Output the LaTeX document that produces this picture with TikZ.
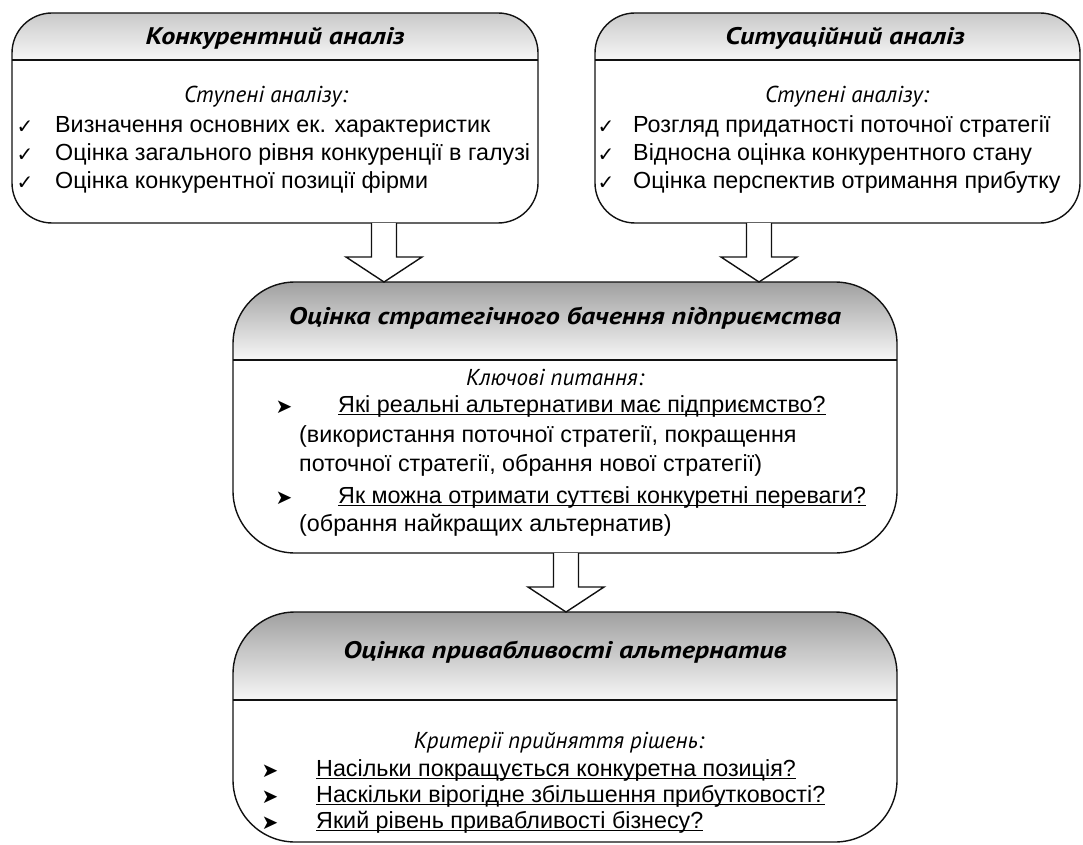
\documentclass[tikz,border=0pt]{standalone}
\usepackage{graphicx}
\usepackage{fontspec}
\setmainfont{Liberation Sans}
\newfontfamily\ttlfont{PT Sans}
\newfontfamily\symfont{DejaVu Sans}
\usetikzlibrary{calc}
\definecolor{hdrlight}{HTML}{C9C9C9}
\definecolor{hdrdark}{HTML}{A0A0A0}
\definecolor{hdrbot}{HTML}{F7F7F7}
\definecolor{lineclr}{HTML}{111111}

% #1 name, #2 x1, #3 y1, #4 x2, #5 y2, #6 radius, #7 header line y, #8 header top colour
\newcommand\drawpanel[8]{%
  \begin{scope}
    \clip[rounded corners=#6pt] (#2,#3) rectangle (#4,#5);
    \shade[top color=#8, bottom color=hdrbot] (#2,#3) rectangle (#4,#7);
  \end{scope}
  \draw[hline] (#2,#7) -- (#4,#7);
  \node[panel, rounded corners=#6pt, minimum width={#4-#2}, minimum height={#5-#3}]
    (#1) at ({(#2+#4)/2},{(#3+#5)/2}) {};
}
% block arrow from #1 (start) to #2 (tip)
\newcommand\blockarrow[2]{%
  \filldraw[blockarr] let \p1=(#1), \p2=(#2) in
    (\x1-12.5pt,\y1) -- (\x1-12.5pt,\y2+25pt) -- (\x1-38pt,\y2+25pt) --
    (\x1,\y2) -- (\x1+38pt,\y2+25pt) -- (\x1+12.5pt,\y2+25pt) -- (\x1+12.5pt,\y1);
}
% underline close to the baseline
\newcommand\undl[1]{\setbox0=\hbox{#1}\rlap{\rule[-2.8pt]{\wd0}{1.1pt}}\box0}
\newcommand\wideT[1]{\scalebox{1.17}[1]{#1}}

\begin{document}
\begin{tikzpicture}[x=1pt,y=-1pt,
  panel/.style={draw=lineclr, line width=1.4pt, inner sep=0pt, outer sep=0pt, rectangle},
  hline/.style={draw=lineclr, line width=1.8pt},
  ttl/.style={font=\ttlfont\bfseries\itshape\fontsize{24}{28}\selectfont, inner sep=0pt},
  sub/.style={font=\ttlfont\itshape\fontsize{23}{27}\selectfont, inner sep=0pt},
  txt/.style={font=\fontsize{23.3}{28}\selectfont, inner sep=0pt, anchor=west, text height=16pt, text depth=5pt},
  chk/.style={font=\symfont\fontsize{20}{22}\selectfont, inner sep=0pt},
  bul/.style={font=\symfont\fontsize{20}{22}\selectfont, inner sep=0pt},
  blockarr/.style={fill=white, draw=lineclr, line width=1.4pt, line join=miter},
]
\useasboundingbox (0,0) rectangle (1083,845);
\fill[white] (0,0) rectangle (1083,845);

% panels
\drawpanel{kon}{12}{13}{538}{223}{40}{60}{hdrlight}
\drawpanel{sit}{595}{13}{1080}{223}{40}{60}{hdrlight}
\drawpanel{ocs}{233}{282}{897}{553}{62}{360}{hdrdark}
\drawpanel{opr}{233}{612}{897}{842}{62}{700}{hdrdark}

% arrows
\coordinate (ax1) at (384,0);
\coordinate (ax2) at (759,0);
\coordinate (ax3) at (566,0);
\blockarrow{ax1 |- kon.south}{ax1 |- ocs.north}
\blockarrow{ax2 |- sit.south}{ax2 |- ocs.north}
\blockarrow{ax3 |- ocs.south}{ax3 |- opr.north}

% left top panel
\node[ttl] (t1) at (275,38) {\wideT{Конкурентний аналіз}};
\node[sub] (s1) at (266,97) {Ступені аналізу:};
\node[chk] (c11) at (25,127) {✓};
\node[chk] (c12) at (25,155) {✓};
\node[chk] (c13) at (25,183) {✓};
\node[txt] (l11) at (55,127) {Визначення основних ек. характеристик};
\node[txt] (l12) at (55,155) {Оцінка загального рівня конкуренції в галузі};
\node[txt] (l13) at (55,183) {Оцінка конкурентної позиції фірми};

% right top panel
\node[ttl] (t2) at (845,38) {\wideT{Ситуаційний аналіз}};
\node[sub] (s2) at (847,97) {Ступені аналізу:};
\node[chk] (c21) at (606,127) {✓};
\node[chk] (c22) at (606,155) {✓};
\node[chk] (c23) at (606,183) {✓};
\node[txt] (l21) at (633,127) {Розгляд придатності поточної стратегії};
\node[txt] (l22) at (633,155) {Відносна оцінка конкурентного стану};
\node[txt] (l23) at (633,183) {Оцінка перспектив отримання прибутку};

% middle panel
\node[ttl] (t3) at (565,318) {\wideT{Оцінка стратегічного бачення підприємства}};
\node[sub] (s3) at (555,377) {Ключові питання:};
\node[bul] (b31) at (284,407) {➤};
\node[bul] (b32) at (284,498) {➤};
\node[txt] (l31) at (338,407) {\undl{Які реальні альтернативи має підприємство?}};
\node[txt] (l32) at (299,437) {(використання поточної стратегії, покращення};
\node[txt] (l33) at (299,466) {поточної стратегії, обрання нової стратегії)};
\node[txt] (l34) at (338,498) {\undl{Як можна отримати суттєві конкуретні переваги?}};
\node[txt] (l35) at (299,526) {(обрання найкращих альтернатив)};

% bottom panel
\node[ttl] (t4) at (565,652) {\wideT{Оцінка привабливості альтернатив}};
\node[sub] (s4) at (559,743) {Критерії прийняття рішень:};
\node[bul] (b41) at (270,771) {➤};
\node[bul] (b42) at (270,797) {➤};
\node[bul] (b43) at (270,823) {➤};
\node[txt] (l41) at (316,771) {\undl{Насільки покращується конкуретна позиція?}};
\node[txt] (l42) at (316,797) {\undl{Наскільки вірогідне збільшення прибутковості?}};
\node[txt] (l43) at (316,823) {\undl{Який рівень привабливості бізнесу?}};
\end{tikzpicture}
\end{document}
